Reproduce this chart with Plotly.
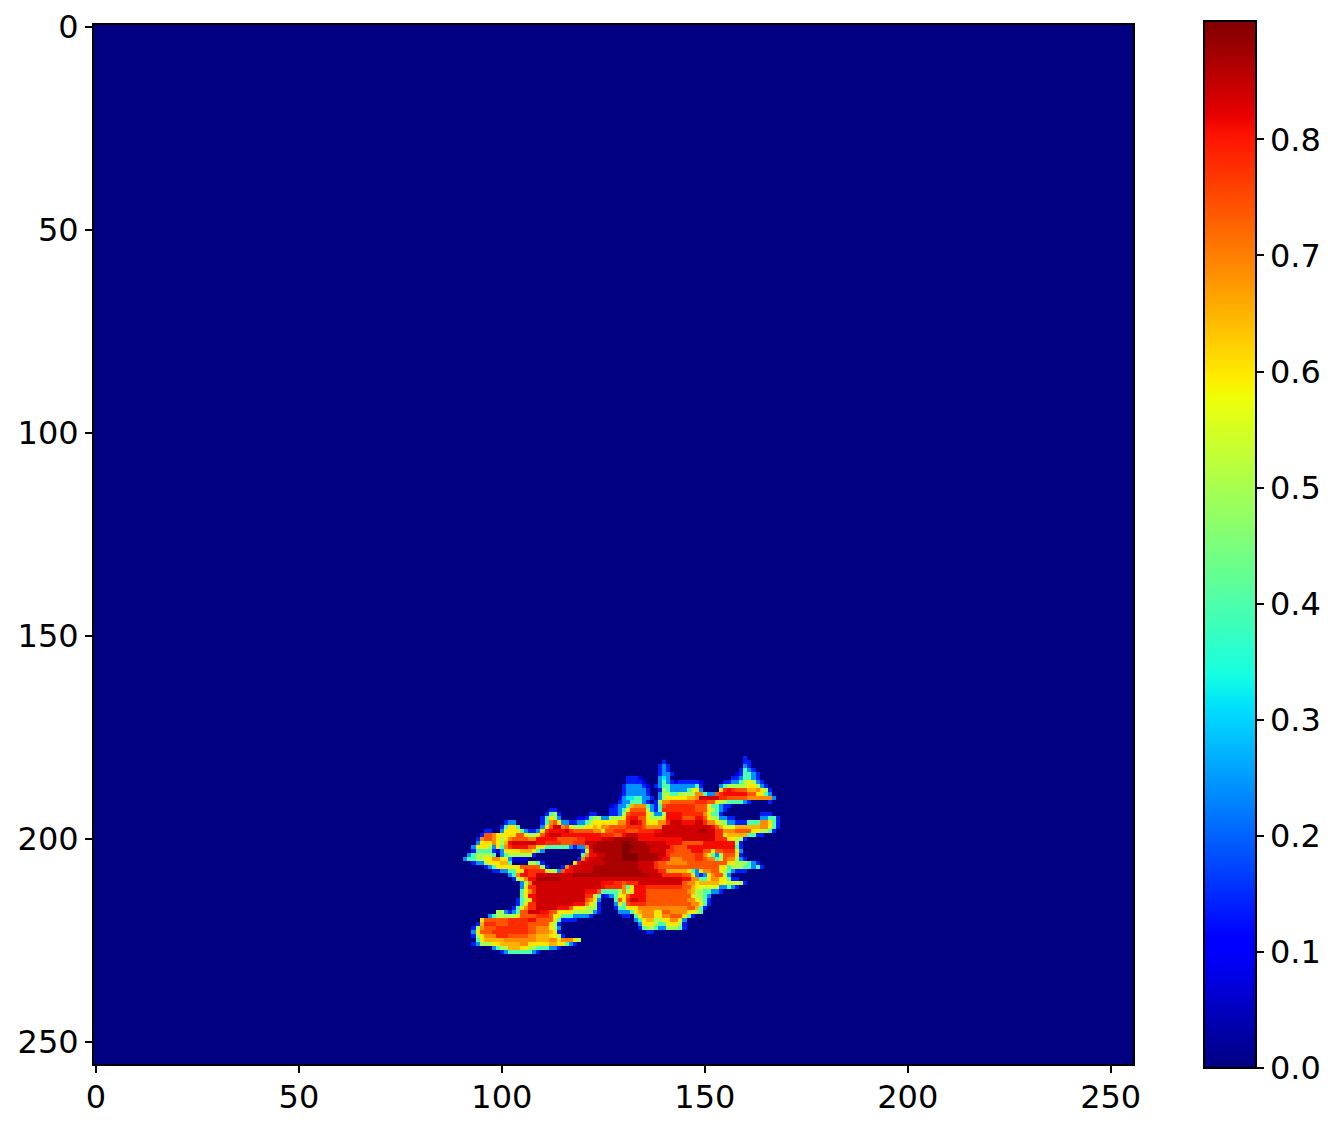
import numpy as np
import plotly.graph_objects as go

# heatmap size, everything outside the blob is 0
n_cells = 256
first_row = 180

# value for each letter code, read against the colorbar
codes = {
    ".": 0.0, "a": 0.08, "b": 0.14, "c": 0.24, "d": 0.32, "t": 0.40, "g": 0.50,
    "h": 0.55, "y": 0.60, "z": 0.65, "o": 0.69, "O": 0.74, "r": 0.78, "R": 0.81,
    "s": 0.84, "S": 0.87, "D": 0.90,
}

# one string per row from first_row down: "<col><code>" holds until the next col
blob_rows = [
    "160b 161.",
    "140b 141. 160b 162.",
    "139b 140c 141b 142. 160c 161b 162.",
    "139b 140c 141b 142. 159b 160t 161c 162b 163.",
    "139b 140c 142b 143. 158a 159b 160t 162c 163b 164.",
    "131b 134a 135. 139c 140d 141c 142. 157b 159c 160t 162c 163b 164.",
    "131b 135a 136. 139c 140t 141c 142b 143a 144b 149a 150. 155b 157c 159t 160g 161y 162g 163c 164b 165.",
    "130b 131c 135b 136a 137. 138b 139c 140t 142c 148t 149b 150. 154c 155t 156g 161y 163g 164c 165b 166.",
    "130b 131c 136b 137. 139b 140g 141t 142c 146t 147h 148y 149c 150. 154y 155r 156R 157r 158O 161z 163o 164y 165g 166b 167.",
    "130b 131c 136b 137. 139c 140g 142t 144g 148o 150t 151c 153O 154r 155R 161O 163y 165t 166c 167.",
    "129a 130c 131d 133t 135c 137b 138. 139c 140g 141y 146z 148o 149s 154r 156O 161o 167c 168.",
    "129b 130c 132t 135c 136b 137. 138b 139g 140o 142O 148r 151O 153y 154g 156t 160c 161b 162. 166b 167.",
    "127a 128b 129c 131t 132z 133o 136t 137c 138b 139t 140O 141r 148O 151y 152t 154c 155b 157.",
    "112b 114. 127b 128b 129c 130t 131y 132O 136g 137c 138b 139t 140r 148O 151y 152g 153t 154c 155b 156.",
    "111b 112t 113g 114b 115. 122b 124. 127b 129c 130g 131O 132r 136y 137g 138c 140g 141R 145r 150o 151y 152t 154b 155. 164b 167.",
    "110b 111t 112y 113g 114c 115. 119a 121b 122t 123g 125c 127g 130y 131r 132R 134O 136y 137g 140y 141R 145O 148R 150O 151y 152g 154c 156b 158. 164c 166t 168b 169.",
    "101b 102c 104. 110b 111t 112o 113O 114y 115c 117b 119c 121t 122g 123y 129o 131r 132s 134R 135O 136y 139o 141r 142s 145R 148s 150r 151o 153y 154g 156c 158b 161t 164o 166y 167t 168b 169.",
    "100b 101t 102y 104t 105. 110c 111y 112O 113s 115o 116O 117y 118g 121y 123z 124y 125o 127O 131r 135O 136o 140s 152R 153O 154z 155h 158z 164o 166y 167t 168b 169.",
    "96b 98. 100c 101y 105t 106c 107b 109c 110y 111r 112R 116s 117r 118O 123o 125y 126O 128r 131O 134r 138R 140s 149S 151s 153r 155o 158O 162y 164g 166t 167b 168.",
    "95b 96O 98o 99y 104O 106y 107g 109y 110O 111R 112s 115R 125r 128O 130R 131s 134R 138s 153r 155y 156z 161t 163b 165.",
    "94b 95o 96O 98o 99y 100g 101y 102o 103O 107o 109R 114O 119r 121R 125s 128S 134R 145s 153r 156y 158g 160b 161.",
    "94c 95y 98o 99y 100g 101z 102R 103s 109R 111r 115O 118r 121s 124S 130D 132S 136s 141R 145O 150R 158g 159b 160.",
    "93c 94y 97g 98c 99y 100t 101o 102r 103R 107O 109y 111t 117c 118b 119c 121o 122s 123S 130D 133S 137s 142r 143O 146R 158t 159b 160.",
    "93b 94t 98b 99a 100c 101y 105z 108y 109t 110c 111. 120b 121g 122R 123S 130D 132S 137s 141r 143O 147R 150O 152y 153O 155r 158y 159c 160.",
    "92c 93t 94g 98t 99. 100c 101t 102g 108b 109. 120t 121o 122R 124s 126S 130D 134S 139s 141r 142O 148r 150o 151y 152t 153c 154g 155O 158y 159b 160.",
    "91c 92t 94g 96y 98o 100y 102c 103a 107. 119b 120o 121R 122s 125S 130D 134S 139s 140R 142o 145O 148r 150O 151o 153t 154g 155O 156o 158g 159c 160b 161.",
    "93b 94c 96g 97y 100z 102t 103. 107g 109t 110b 111. 118y 119R 120s 126S 134s 138r 139O 141o 146O 156y 158g 161t 162c 163b 164.",
    "96b 97c 98t 99y 105O 110g 111b 112. 115b 116o 117R 118s 123S 134s 138r 139O 154y 156t 157g 160t 162c 163t 164b 165.",
    "98b 100c 102t 104y 106R 107r 111y 112g 114c 115O 116R 118s 123S 135s 139r 141z 146y 147t 148c 149y 150o 152O 154y 155g 156t 157c 158b 161.",
    "102c 103t 104o 105R 107r 109s 118S 137s 140r 145O 147y 148c 149b 150c 151y 152o 153O 155g 156c 157.",
    "103b 104g 105y 106o 107R 109S 115s 145R 147o 149t 151y 152o 154y 156t 157b 159.",
    "105c 106g 107o 108s 125R 128r 130O 131r 134s 145O 146o 148y 149z 154y 155h 159g 160b 161.",
    "105c 106y 107r 109s 125R 126r 130o 131t 132y 133R 136r 145O 147z 148y 149h 154c 156t 157c 158b 159.",
    "105t 106y 107o 108r 109s 121R 124O 125t 129g 130o 131g 132y 133R 136O 146o 147z 148g 150t 152c 154b 155.",
    "105t 106y 107R 109s 121r 123y 124t 125a 126b 127c 128t 129y 131O 132R 136O 147y 148g 150t 151c 152.",
    "104b 105t 106g 107y 108R 109s 121O 122o 123y 124c 125. 128t 129O 130y 131r 132s 134R 136O 146o 148y 149g 150t 151b 152.",
    "104b 105t 106y 107r 109s 118R 121o 122y 123g 124b 125. 128c 129y 130t 131O 132r 136O 147o 149y 150t 151b 152.",
    "103b 104t 105y 106o 107r 109s 114R 117O 118y 121g 124b 125. 128b 129t 131y 134o 146O 148z 149t 150b 151.",
    "99g 101c 102b 103c 104t 105O 107s 110R 112O 114y 118g 123c 124b 125. 129c 132t 133y 134z 135o 138y 140O 142o 146y 148g 149t 150.",
    "97c 98t 99g 104y 105O 109r 112O 113y 115t 118c 122b 123. 130b 132. 133t 134y 135o 138y 140o 142O 145y 146t 147b 148.",
    "95y 96O 102r 107R 109O 113y 114t 115b 119. 133c 134t 135y 136z 138g 140y 142o 144y 145c 146.",
    "94b 95z 96r 99O 102r 107O 112y 113g 114b 115. 134c 135y 138g 139t 141y 144g 145b 146.",
    "93b 94g 95o 96O 99r 107O 109o 112y 113g 114c 115. 134b 135t 136g 138t 139c 141g 144t 145b 146.",
    "93c 94y 95O 98r 107O 109o 112z 113y 114b 115. 136b 138.",
    "93b 94g 95y 96o 99r 102O 107o 109z 112y 114g 115b 116.",
    "94t 95y 96z 101o 109z 112o 114y 115o 118y 119g 120.",
    "93b 94c 95g 98y 100z 105o 107y 112z 114y 116t 117c 118b 119.",
    "98c 99t 100g 102z 105y 107g 109t 112c 114b 115.",
    "100b 101c 102t 108c 109b 110.",
]

axis_ticks = [0, 50, 100, 150, 200, 250]
bar_ticks = [0.0, 0.1, 0.2, 0.3, 0.4, 0.5, 0.6, 0.7, 0.8]

# matplotlib's jet, plotly's Jet is a different ramp
jet = [
    [0.0, "rgb(0,0,128)"], [0.11, "rgb(0,0,255)"], [0.125, "rgb(0,0,255)"],
    [0.34, "rgb(0,219,255)"], [0.35, "rgb(0,230,247)"], [0.375, "rgb(21,255,226)"],
    [0.64, "rgb(238,255,8)"], [0.65, "rgb(247,246,0)"], [0.66, "rgb(255,236,0)"],
    [0.89, "rgb(255,19,0)"], [0.91, "rgb(232,0,0)"], [1.0, "rgb(128,0,0)"],
]

z = np.zeros((n_cells, n_cells))
for i, row in enumerate(blob_rows):
    tokens = row.split()
    for j, tok in enumerate(tokens):
        start = int(tok[:-1])
        end = int(tokens[j + 1][:-1]) if j + 1 < len(tokens) else start + 1
        z[first_row + i, start:end] = codes[tok[-1]]

tick_font = dict(family="DejaVu Sans", size=32, color="black")

fig = go.Figure(go.Heatmap(
    z=z,
    colorscale=jet,
    zmin=0,
    zmax=0.902,
    hoverinfo="skip",
    colorbar=dict(
        x=1.0683, xanchor="left", xpad=0,
        y=0.5, yanchor="middle", ypad=0,
        lenmode="pixels", len=1047,
        thicknessmode="pixels", thickness=52,
        outlinecolor="black", outlinewidth=2,
        ticks="outside", ticklen=7, tickwidth=2, tickcolor="black",
        tickvals=bar_ticks, tickformat=".1f",
        tickfont=tick_font,
    ),
))

axis_style = dict(
    tickvals=axis_ticks,
    ticks="outside", ticklen=7, tickwidth=2, tickcolor="black",
    tickfont=tick_font,
    showgrid=False, zeroline=False,
    showline=True, linecolor="black", linewidth=2, mirror=True,
)
fig.update_xaxes(range=[-0.5, 255.5], ticklabelstandoff=-3, **axis_style)
fig.update_yaxes(range=[255.5, -0.5], **axis_style)

fig.update_layout(
    width=1338, height=1128,
    margin=dict(l=94, r=205, t=25, b=64, autoexpand=False),
    paper_bgcolor="white", plot_bgcolor="white",
)

# the page's default body margin would push the figure 8px in
fig.write_html("out.html", config=dict(displayModeBar=False),
               post_script="document.body.style.margin='0';")
